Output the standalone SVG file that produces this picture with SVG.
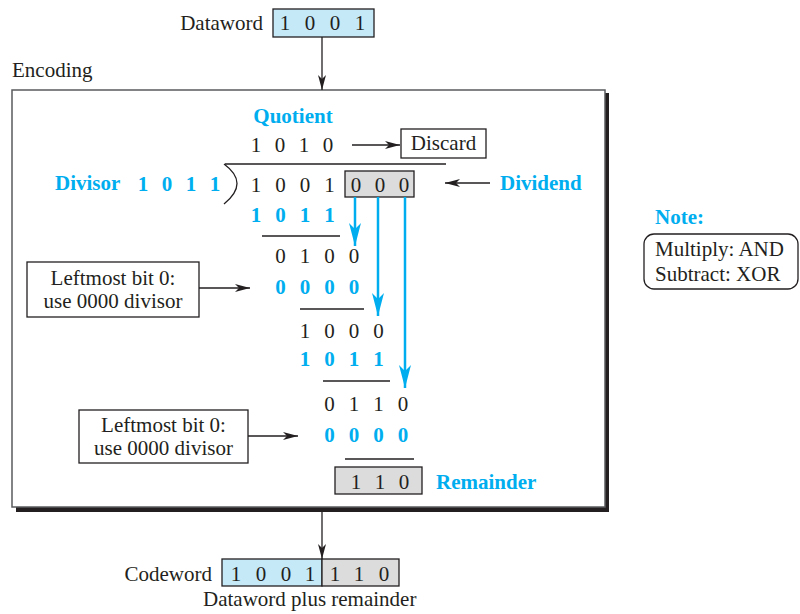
<svg xmlns="http://www.w3.org/2000/svg" width="800" height="614" viewBox="0 0 800 614">
<defs>
<style>
text{font-family:"Liberation Serif","Times New Roman",serif;font-size:21px;fill:#231f20}
.b{fill:#00aeef;font-weight:bold}
.d{text-anchor:middle}
.box{fill:#fff;stroke:#231f20;stroke-width:1.3}
.ln{stroke:#231f20;stroke-width:1.3;fill:none}
.bl{stroke:#00aeef;stroke-width:2.5;fill:none}
.blue{fill:#c6e9f8;stroke:#231f20;stroke-width:1.3}
.gray{fill:#dcdcdd;stroke:#231f20;stroke-width:1.3}
</style>
<marker id="ah" markerWidth="16" markerHeight="10" refX="15" refY="5" orient="auto" markerUnits="userSpaceOnUse">
<path d="M0,1 L15,5 L0,9 L4,5 Z" fill="#231f20"/>
</marker>
<marker id="bh" markerWidth="12" markerHeight="24" refX="6" refY="23" orient="0" markerUnits="userSpaceOnUse">
<path d="M0,0 L6,6 L12,0 L6,23 Z" fill="#00aeef"/>
</marker>
</defs>
<rect width="800" height="614" fill="#fff"/>

<g id="dataword">
<text x="263" y="30" text-anchor="end">Dataword</text>
<rect class="blue" x="273" y="9" width="101" height="28"/>
<text class="d" x="285" y="30">1</text><text class="d" x="310" y="30">0</text><text class="d" x="335" y="30">0</text><text class="d" x="360" y="30">1</text>
</g>

<text x="12" y="77">Encoding</text>

<g id="encoding">
<rect x="16" y="93" width="593" height="419" fill="#231f20"/>
<rect x="12" y="90" width="593" height="417" fill="#fff" stroke="#5a5b5d" stroke-width="1.5"/>
</g>

<g id="quotient">
<text class="b d" x="293" y="123">Quotient</text>
<text class="d" x="256" y="152">1</text><text class="d" x="280" y="152">0</text><text class="d" x="304" y="152">1</text><text class="d" x="328" y="152">0</text>
</g>

<g id="discard">
<rect class="box" x="401" y="129" width="85" height="29"/>
<text class="d" x="443.5" y="150">Discard</text>
</g>

<g id="divisor">
<text class="b" x="55" y="190">Divisor</text>
<text class="b d" x="143" y="191">1</text><text class="b d" x="167" y="191">0</text><text class="b d" x="191" y="191">1</text><text class="b d" x="215" y="191">1</text>
</g>

<g id="dividend">
<path class="ln" d="M225,164 H446"/>
<path class="ln" d="M224,164 Q250,183 224,204" stroke-width="1.8"/>
<rect class="gray" x="345" y="171" width="69" height="26"/>
<text class="d" x="256" y="192">1</text><text class="d" x="280.5" y="192">0</text><text class="d" x="305" y="192">0</text><text class="d" x="329.5" y="192">1</text>
<text class="d" x="356" y="192">0</text><text class="d" x="380" y="192">0</text><text class="d" x="404" y="192">0</text>
<text class="b" x="500" y="190">Dividend</text>
</g>

<g id="division">
<text class="b d" x="256" y="222">1</text><text class="b d" x="280.5" y="222">0</text><text class="b d" x="305" y="222">1</text><text class="b d" x="329.5" y="222">1</text>
<path class="ln" d="M262,236 H340"/>
<text class="d" x="280.5" y="263">0</text><text class="d" x="305" y="263">1</text><text class="d" x="329.5" y="263">0</text><text class="d" x="354" y="263">0</text>
<text class="b d" x="280.5" y="294">0</text><text class="b d" x="305" y="294">0</text><text class="b d" x="329.5" y="294">0</text><text class="b d" x="354" y="294">0</text>
<path class="ln" d="M300,309 H364"/>
<text class="d" x="305" y="338">1</text><text class="d" x="329.5" y="338">0</text><text class="d" x="354" y="338">0</text><text class="d" x="378.5" y="338">0</text>
<text class="b d" x="305" y="366">1</text><text class="b d" x="329.5" y="366">0</text><text class="b d" x="354" y="366">1</text><text class="b d" x="378.5" y="366">1</text>
<path class="ln" d="M323,381 H390"/>
<text class="d" x="329.5" y="411">0</text><text class="d" x="354" y="411">1</text><text class="d" x="378.5" y="411">1</text><text class="d" x="403" y="411">0</text>
<text class="b d" x="329.5" y="442">0</text><text class="b d" x="354" y="442">0</text><text class="b d" x="378.5" y="442">0</text><text class="b d" x="403" y="442">0</text>
<path class="ln" d="M345,459 H414"/>
</g>

<g id="remainder">
<rect class="gray" x="335" y="467" width="87" height="27"/>
<text class="d" x="356" y="489">1</text><text class="d" x="380" y="489">1</text><text class="d" x="404" y="489">0</text>
<text class="b" x="436" y="489">Remainder</text>
</g>

<g id="note1">
<rect class="box" x="27" y="262" width="172" height="55"/>
<text class="d" x="113" y="285">Leftmost bit 0:</text>
<text class="d" x="113" y="308">use 0000 divisor</text>
</g>

<g id="note2">
<rect class="box" x="79" y="410" width="169" height="53"/>
<text class="d" x="163.5" y="432">Leftmost bit 0:</text>
<text class="d" x="163.5" y="455">use 0000 divisor</text>
</g>

<g id="note">
<text class="b" x="655" y="224">Note:</text>
<rect class="box" x="644" y="234" width="154" height="55" rx="10"/>
<text x="655" y="256">Multiply: AND</text>
<text x="655" y="281">Subtract: XOR</text>
</g>

<g id="codeword">
<text x="212" y="581" text-anchor="end">Codeword</text>
<rect class="blue" x="222" y="559" width="100" height="27"/>
<rect class="gray" x="322" y="559" width="77" height="27"/>
<text class="d" x="236" y="581">1</text><text class="d" x="261" y="581">0</text><text class="d" x="286" y="581">0</text><text class="d" x="310" y="581">1</text>
<text class="d" x="335" y="581">1</text><text class="d" x="359" y="581">1</text><text class="d" x="384" y="581">0</text>
<text x="203" y="606">Dataword plus remainder</text>
</g>

<g id="connectors">
<path class="ln" d="M322,37 V90" marker-end="url(#ah)"/>
<path class="ln" d="M322,512 V559" marker-end="url(#ah)"/>
<path class="ln" d="M352,145 H400" marker-end="url(#ah)"/>
<path class="ln" d="M490,183 H445" marker-end="url(#ah)"/>
<path class="ln" d="M199,288 H250" marker-end="url(#ah)"/>
<path class="ln" d="M248,436 H298" marker-end="url(#ah)"/>
<path class="bl" d="M355,197 V246" marker-end="url(#bh)"/>
<path class="bl" d="M378,197 V316" marker-end="url(#bh)"/>
<path class="bl" d="M405,197 V388" marker-end="url(#bh)"/>
</g>
</svg>
